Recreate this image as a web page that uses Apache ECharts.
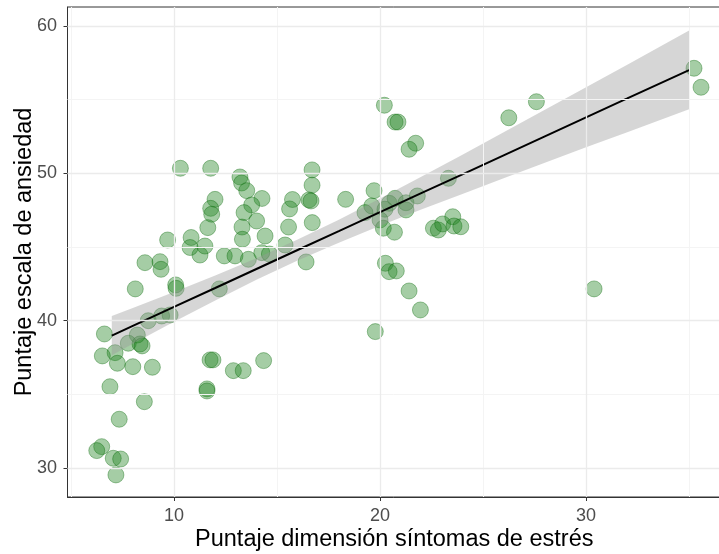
<!DOCTYPE html>
<html>
<head>
<meta charset="utf-8">
<script src="https://cdn.jsdelivr.net/npm/echarts@6/dist/echarts.min.js"></script>
<style>html,body{margin:0;padding:0;background:#fff}#c{width:719px;height:554px}</style>
</head>
<body>
<div id="c"></div>
<script>
// Scatter data (estrés, ansiedad)
const stressX = [
  10.31,11.78,13.20,13.28,13.53,11.99,11.78,11.83,11.64,14.27,13.77,13.40,14.01,13.30,14.42,13.32,
  15.75,15.61,15.56,15.39,9.69,10.83,11.26,11.50,12.44,12.96,13.61,14.26,14.63,8.59,9.32,9.37,
  10.08,10.10,8.12,12.20,8.75,9.40,9.81,6.62,8.22,7.78,8.35,8.45,7.14,6.52,7.25,8.00,8.95,
  11.75,11.89,12.88,13.36,14.35,6.89,11.60,11.60,8.56,7.34,6.49,6.25,7.05,7.41,7.18,10.78,
  18.33,19.71,19.60,19.27,20.45,20.73,20.24,21.26,21.26,21.81,20.00,20.16,20.70,23.32,
  22.59,22.83,23.04,23.53,23.59,23.92,
  16.70,16.70,16.55,16.65,16.71,16.41,
  20.21,20.73,20.87,21.73,21.41,26.25,27.59,35.24,35.58,
  20.26,20.44,20.79,21.41,21.96,19.77,30.39
];
const anxietyY = [
  50.34,50.34,49.75,49.34,48.82,48.23,47.62,47.22,46.31,48.29,47.85,47.33,46.76,46.35,45.74,45.52,
  48.22,47.58,46.35,45.13,45.47,45.64,44.45,45.06,44.39,44.39,44.16,44.61,44.52,43.93,44.00,43.48,
  42.42,42.19,42.15,42.15,39.99,40.31,40.38,39.09,39.02,38.46,38.41,38.28,37.82,37.60,37.10,36.87,36.83,
  37.33,37.33,36.60,36.60,37.28,35.51,35.36,35.22,34.49,33.30,31.44,31.17,30.65,30.60,29.52,44.96,
  48.23,48.82,47.78,47.33,47.96,48.30,47.56,48.00,47.51,48.46,46.83,46.27,46.00,49.66,
  46.27,46.15,46.56,47.05,46.42,46.37,
  50.23,49.19,48.19,48.12,46.65,43.98,
  54.62,53.48,53.48,52.04,51.63,53.77,54.86,57.13,55.84,
  43.89,43.32,43.37,42.01,40.72,39.25,42.15
];
// Fitted line and confidence band
const fitX    = [6.98, 8, 10, 12, 14, 16, 18, 20, 22, 24, 26, 28, 30, 32, 35];
const fitY    = [38.98,39.64,40.93,42.21,43.50,44.79,46.07,47.36,48.65,49.93,51.22,52.51,53.80,55.08,57.01];
const bandLow = [37.65,38.42,39.92,41.37,42.77,44.08,45.29,46.44,47.54,48.60,49.66,50.71,51.76,52.79,54.34];
const bandHigh= [40.31,40.86,41.94,43.06,44.23,45.50,46.85,48.28,49.76,51.26,52.78,54.31,55.84,57.37,59.69];
// Axis ticks and grid lines
const xTicks = [10, 20, 30];
const yTicks = [30, 40, 50, 60];
const xMinor = [5, 15, 25, 35];
const yMinor = [35, 45, 55];

const points = stressX.map((x, i) => [x, anxietyY[i]]);
const lineData = fitX.map((x, i) => [x, fitY[i]]);

const gridLines = []
  .concat(xMinor.map(v => ({xAxis: v, lineStyle: {color: '#f4f4f4', width: 1}})))
  .concat(yMinor.map(v => ({yAxis: v, lineStyle: {color: '#f4f4f4', width: 1}})))
  .concat(xTicks.map(v => ({xAxis: v, lineStyle: {color: '#ebebeb', width: 1.3}})))
  .concat(yTicks.map(v => ({yAxis: v, lineStyle: {color: '#ebebeb', width: 1.3}})));

const font = 'Liberation Sans, Arial, sans-serif';
const chart = echarts.init(document.getElementById('c'), null, {renderer: 'canvas'});
chart.setOption({
  animation: false,
  backgroundColor: '#fff',
  grid: {left: 67.5, right: -2, top: 7, bottom: 57, outerBoundsMode: 'none', containLabel: false,
    show: true, borderColor: '#333', borderWidth: 1, backgroundColor: 'transparent'},
  xAxis: {
    type: 'value', min: 4.83, max: 36.55,
    name: 'Puntaje dimensión síntomas de estrés', nameLocation: 'middle', nameGap: 31, nameMoveOverlap: false,
    nameTextStyle: {fontFamily: font, fontSize: 23.5, color: '#000'},
    axisLine: {show: true, onZero: false, lineStyle: {color: '#333', width: 1}},
    axisTick: {show: true, length: 4, customValues: xTicks, lineStyle: {color: '#333'}},
    axisLabel: {customValues: xTicks, fontFamily: font, fontSize: 18, color: '#4d4d4d', margin: 10},
    splitLine: {show: false}
  },
  yAxis: {
    type: 'value', min: 28.02, max: 61.29,
    name: 'Puntaje escala de ansiedad', nameLocation: 'middle', nameGap: 31, nameMoveOverlap: false,
    nameTextStyle: {fontFamily: font, fontSize: 23.5, color: '#000'},
    axisLine: {show: true, onZero: false, lineStyle: {color: '#333', width: 1}},
    axisTick: {show: true, length: 4, customValues: yTicks, lineStyle: {color: '#333'}},
    axisLabel: {customValues: yTicks, fontFamily: font, fontSize: 18, color: '#4d4d4d', margin: 10.5},
    splitLine: {show: false}
  },
  series: [
    {
      type: 'scatter', data: [], silent: true, z: 1,
      markLine: {silent: true, symbol: 'none', label: {show: false}, animation: false,
        lineStyle: {type: 'solid'}, data: gridLines}
    },
    {
      type: 'scatter', data: points, symbol: 'circle', symbolSize: 16, z: 2,
      itemStyle: {color: 'rgba(30,130,30,0.5)', borderColor: 'rgba(0,100,0,0.45)', borderWidth: 1}
    },
    {
      type: 'custom', z: 3, silent: true, clip: true,
      data: [[fitX[0], bandLow[0]]],
      renderItem: function (params, api) {
        const up = fitX.map((x, i) => api.coord([x, bandHigh[i]]));
        const lo = fitX.map((x, i) => api.coord([x, bandLow[i]])).reverse();
        return {
          type: 'polygon',
          shape: {points: up.concat(lo)},
          style: {fill: 'rgba(153,153,153,0.4)', stroke: null}
        };
      }
    },
    {
      type: 'line', data: lineData, symbol: 'none', z: 4,
      lineStyle: {color: '#000', width: 2}, silent: true
    }
  ]
});
</script>
</body>
</html>
